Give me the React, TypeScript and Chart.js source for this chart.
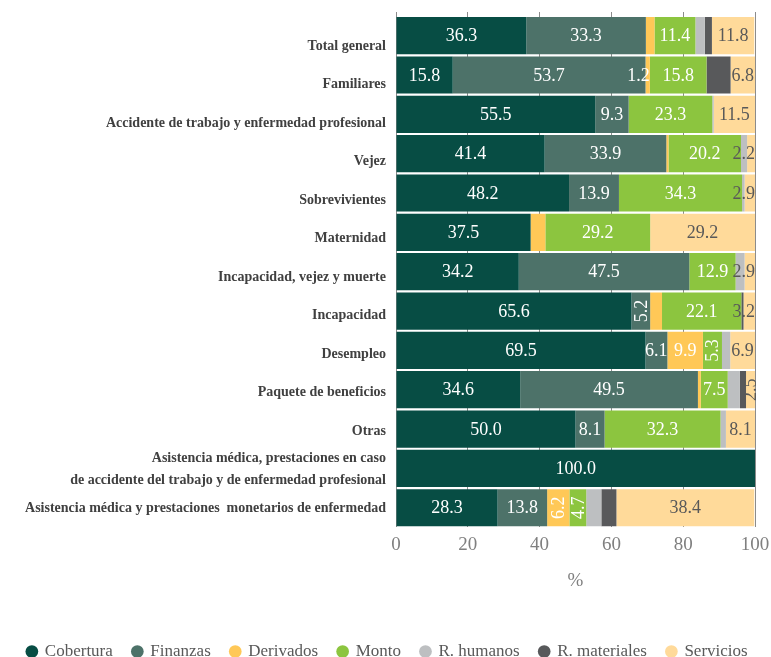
import { useEffect, useRef } from 'react';
import { Chart, registerables } from 'chart.js';

Chart.register(...registerables);

const FONT = "'Liberation Serif', 'Times New Roman', serif";

const CATEGORIES: (string | string[])[] = [
  'Total general',
  'Familiares',
  'Accidente de trabajo y enfermedad profesional',
  'Vejez',
  'Sobrevivientes',
  'Maternidad',
  'Incapacidad, vejez y muerte',
  'Incapacidad',
  'Desempleo',
  'Paquete de beneficios',
  'Otras',
  ['Asistencia médica, prestaciones en caso', 'de accidente del trabajo y de enfermedad profesional'],
  'Asistencia médica y prestaciones  monetarios de enfermedad',
];

const SERIES_NAMES = ['Cobertura', 'Finanzas', 'Derivados', 'Monto', 'R. humanos', 'R. materiales', 'Servicios'];
const SERIES_COLORS = ['#074D44', '#4D7269', '#FFC857', '#8CC53F', '#BDBFC1', '#58595B', '#FFDA9A'];
const LABEL_COLORS = ['#FFFFFF', '#FFFFFF', '#FFFFFF', '#FFFFFF', '#595959', '#595959', '#595959'];

const COBERTURA = [36.3, 15.8, 55.5, 41.4, 48.2, 37.5, 34.2, 65.6, 69.5, 34.6, 50.0, 100.0, 28.3];
const FINANZAS = [33.3, 53.7, 9.3, 33.9, 13.9, 0, 47.5, 5.2, 6.1, 49.5, 8.1, 0, 13.8];
const DERIVADOS = [2.4, 1.2, 0, 0.6, 0, 4.1, 0, 3.3, 9.9, 0.8, 0, 0, 6.2];
const MONTO = [11.4, 15.8, 23.3, 20.2, 34.3, 29.2, 12.9, 22.1, 5.3, 7.5, 32.3, 0, 4.7];
const R_HUMANOS = [2.6, 0, 0.4, 1.7, 0.7, 0, 2.5, 0, 2.3, 3.4, 1.5, 0, 4.2];
const R_MATERIALES = [2.0, 6.7, 0, 0, 0, 0, 0, 0.6, 0, 1.7, 0, 0, 4.2];
const SERVICIOS = [11.8, 6.8, 11.5, 2.2, 2.9, 29.2, 2.9, 3.2, 6.9, 2.5, 8.1, 0, 38.4];

const SERIES_VALUES = [COBERTURA, FINANZAS, DERIVADOS, MONTO, R_HUMANOS, R_MATERIALES, SERVICIOS];

// rows (category indices) whose value label is shown, per series
const LABEL_ROWS: number[][] = [
  [0, 1, 2, 3, 4, 5, 6, 7, 8, 9, 10, 11, 12],
  [0, 1, 2, 3, 4, 6, 7, 8, 9, 10, 12],
  [1, 8, 12],
  [0, 1, 2, 3, 4, 5, 6, 7, 8, 9, 10, 12],
  [],
  [],
  [0, 1, 2, 3, 4, 5, 6, 7, 8, 9, 10, 12],
];
// rows whose value label is written vertically, per series
const ROTATED_ROWS: number[][] = [[], [7], [12], [8, 12], [], [], [9]];

const X_TICKS_STEP = 20;
// category labels are spaced slightly tighter than the bars, anchored at the bottom
const LABEL_SQUEEZE = 0.979;

const valueLabelPlugin = {
  id: 'valueLabels',
  afterDatasetsDraw(chart: any) {
    const ctx = chart.ctx;
    const area = chart.chartArea;
    ctx.save();
    ctx.font = `18px ${FONT}`;
    ctx.textBaseline = 'middle';
    ctx.textAlign = 'center';
    chart.data.datasets.forEach((ds: any, i: number) => {
      const meta = chart.getDatasetMeta(i);
      ctx.fillStyle = LABEL_COLORS[i];
      LABEL_ROWS[i].forEach((j) => {
        const el = meta.data[j];
        if (!el) return;
        const { x, y, base } = el.getProps(['x', 'y', 'base'], true);
        const text = Number(ds.data[j]).toFixed(1);
        let cx = (x + base) / 2;
        if (ROTATED_ROWS[i].includes(j)) {
          ctx.save();
          ctx.translate(cx, y);
          ctx.rotate(-Math.PI / 2);
          ctx.fillText(text, 0, 1);
          ctx.restore();
        } else {
          const w = ctx.measureText(text).width;
          const segW = Math.abs(x - base);
          if (w > segW) cx = Math.max(x, base) - w / 2;
          if (cx + w / 2 > area.right) cx = area.right - w / 2;
          ctx.fillText(text, cx, y + 1);
        }
      });
    });
    ctx.restore();
  },
};

export default function App() {
  const ref = useRef<HTMLCanvasElement | null>(null);

  useEffect(() => {
    document.body.style.margin = '0';
    if (!ref.current) return;
    const chart = new Chart(ref.current, {
      type: 'bar',
      data: {
        labels: CATEGORIES as any,
        datasets: SERIES_NAMES.map((name, i) => ({
          label: name,
          data: SERIES_VALUES[i],
          backgroundColor: SERIES_COLORS[i],
          borderColor: SERIES_COLORS[i],
          borderWidth: 0,
          barPercentage: 0.966,
          categoryPercentage: 1,
        })),
      },
      options: {
        indexAxis: 'y',
        animation: false,
        responsive: false,
        maintainAspectRatio: false,
        layout: { padding: { top: 12, right: 0, left: 4, bottom: -13 } },
        scales: {
          x: {
            type: 'linear',
            stacked: true,
            min: 0,
            max: 100,
            ticks: {
              stepSize: X_TICKS_STEP,
              color: '#7F7F7F',
              font: { family: FONT, size: 19 },
              padding: 6,
              maxRotation: 0,
            },
            grid: { color: '#8C8C8C', drawTicks: false, lineWidth: 1 },
            border: { display: false },
            title: {
              display: true,
              text: '%',
              color: '#7F7F7F',
              font: { family: FONT, size: 19 },
              padding: { top: 7, bottom: 31 },
            },
            afterFit: (s: any) => {
              s.paddingRight = 16;
            },
          },
          x2: {
            type: 'linear',
            axis: 'x',
            position: 'top',
            min: 0,
            max: 100,
            ticks: { display: false, stepSize: X_TICKS_STEP },
            grid: { drawOnChartArea: false, drawTicks: true, tickLength: 4, color: '#8C8C8C' },
            border: { display: false },
            afterFit: (s: any) => {
              s.paddingRight = 16;
            },
          },
          y: {
            stacked: true,
            ticks: {
              color: '#404040',
              font: { family: FONT, size: 14, weight: 'bold', lineHeight: 1.55 },
              padding: 10,
              autoSkip: false,
            },
            grid: { display: false, drawTicks: false },
            border: { display: false },
            afterFit: (s: any) => {
              s.width = 392;
              s.paddingTop = 0;
              s.paddingBottom = 0;
              if (!s._squeezed) {
                const base = Object.getPrototypeOf(s).getPixelForTick;
                s.getPixelForTick = function (i: number) {
                  const p = base.call(this, i);
                  return this.bottom - (this.bottom - p) * LABEL_SQUEEZE;
                };
                s._squeezed = true;
              }
            },
          },
        } as any,
        plugins: {
          legend: {
            position: 'bottom',
            labels: {
              usePointStyle: true,
              pointStyle: 'circle',
              boxWidth: 9,
              boxHeight: 9,
              padding: 20,
              color: '#595959',
              font: { family: FONT, size: 17 },
            },
          },
          tooltip: { enabled: false },
        },
      } as any,
      plugins: [valueLabelPlugin],
    });
    return () => chart.destroy();
  }, []);

  return (
    <div style={{ width: 771, height: 657, overflow: 'hidden' }}>
      <canvas ref={ref} width={771} height={657} style={{ display: 'block' }} />
    </div>
  );
}
